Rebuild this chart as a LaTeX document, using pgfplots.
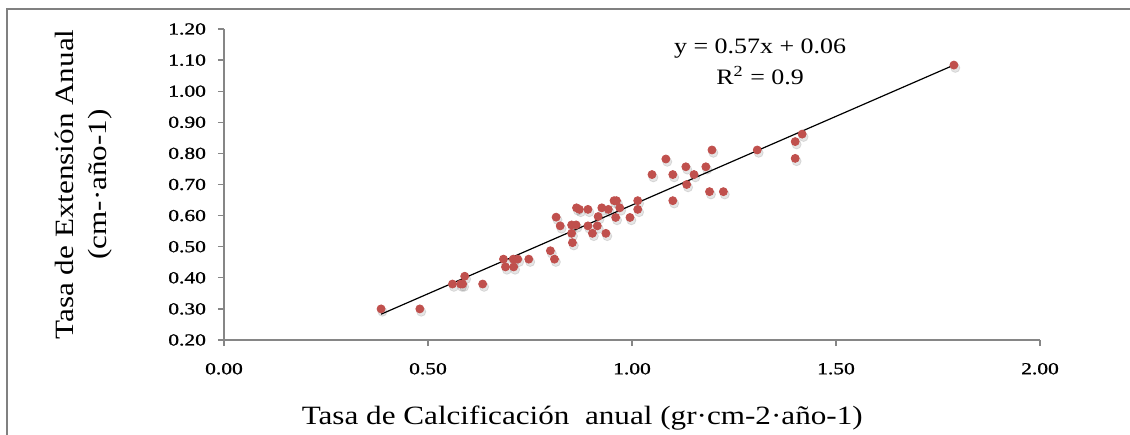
\documentclass[border=0pt]{standalone}
\usepackage{fontspec}
\setmainfont{Liberation Serif}[FakeStretch=1.18]
\newfontfamily\tickfont{Liberation Serif}[FakeStretch=1.28, FakeBold=1.2]
\usepackage{pgfplots}
\usepackage{pgfplotstable}
\pgfplotsset{compat=1.18}
\definecolor{ptred}{RGB}{192,80,77}
\definecolor{axgray}{RGB}{134,134,134}
\definecolor{framegray}{RGB}{128,128,128}
\pgfplotstableread{
x y
0.385 0.300
0.480 0.300
0.560 0.380
0.580 0.380
0.585 0.380
0.590 0.405
0.634 0.380
0.685 0.460
0.690 0.435
0.710 0.435
0.709 0.460
0.720 0.460
0.747 0.460
0.800 0.487
0.810 0.460
0.814 0.595
0.824 0.567
0.852 0.570
0.852 0.543
0.854 0.513
0.863 0.570
0.864 0.625
0.871 0.620
0.892 0.620
0.892 0.567
0.903 0.543
0.915 0.567
0.917 0.597
0.926 0.625
0.936 0.543
0.942 0.620
0.956 0.648
0.962 0.648
0.960 0.594
0.970 0.625
0.995 0.594
1.014 0.648
1.014 0.620
1.049 0.732
1.083 0.782
1.100 0.732
1.100 0.648
1.132 0.757
1.134 0.700
1.152 0.732
1.181 0.757
1.196 0.811
1.190 0.677
1.224 0.677
1.307 0.811
1.400 0.838
1.400 0.784
1.417 0.862
1.789 1.084
}\datatable
\begin{document}
\begin{tikzpicture}
\path[use as bounding box] (-112pt,-47pt) rectangle (453pt,170pt);
\draw[framegray, line width=0.9pt] (-108.3pt,-48pt) -- (-108.3pt,165.3pt) -- (454pt,165.3pt);
\begin{axis}[
  at={(0,0)}, anchor=south west,
  scale only axis, width=408pt, height=155.5pt,
  xmin=0, xmax=2, ymin=0.2, ymax=1.2,
  axis x line*=bottom, axis y line*=left,
  axis line style={axgray, line width=0.6pt},
  xtick={0,0.5,1,1.5,2},
  ytick={0.2,0.3,0.4,0.5,0.6,0.7,0.8,0.9,1.0,1.1,1.2},
  tick align=outside, major tick length=3pt,
  tick style={axgray, line width=0.6pt},
  ticklabel style={font=\tickfont\fontsize{8.4}{9}\selectfont},
  yticklabel style={xshift=-2.5pt},
  xticklabel style={yshift=-5pt},
  /pgf/number format/assume math mode=true,
  /pgf/number format/fixed,
  /pgf/number format/fixed zerofill,
  /pgf/number format/precision=2,
  xlabel={Tasa de Calcificación\ \ anual (gr·cm-2·año-1)},
  xlabel style={at={(axis description cs:0.439,-0.273)}, anchor=base, font=\fontsize{13.2}{15}\selectfont},
  ylabel={Tasa de Extensión Anual\\(cm-·año-1)},
  ylabel style={at={(axis description cs:-0.172,0.5)}, anchor=center, align=center, font=\fontsize{13.2}{16.5}\selectfont},
  clip=false,
]
\addplot[only marks, mark=*, mark size=2.3pt, mark options={draw=none, fill=black, opacity=0.10, xshift=0.7pt, yshift=-1.4pt}] table[x=x,y=y] {\datatable};
\addplot[black, line width=0.6pt] coordinates {(0.385,0.283) (1.789,1.084)};
\addplot[only marks, mark=*, mark size=2pt, mark options={draw=ptred, fill=ptred}] table[x=x,y=y] {\datatable};
\node[align=center, font=\fontsize{11}{15.5}\selectfont] at (axis cs:1.314,1.095) {y = 0.57x + 0.06\\R\textsuperscript{2} = 0.9};
\end{axis}
\end{tikzpicture}
\end{document}
